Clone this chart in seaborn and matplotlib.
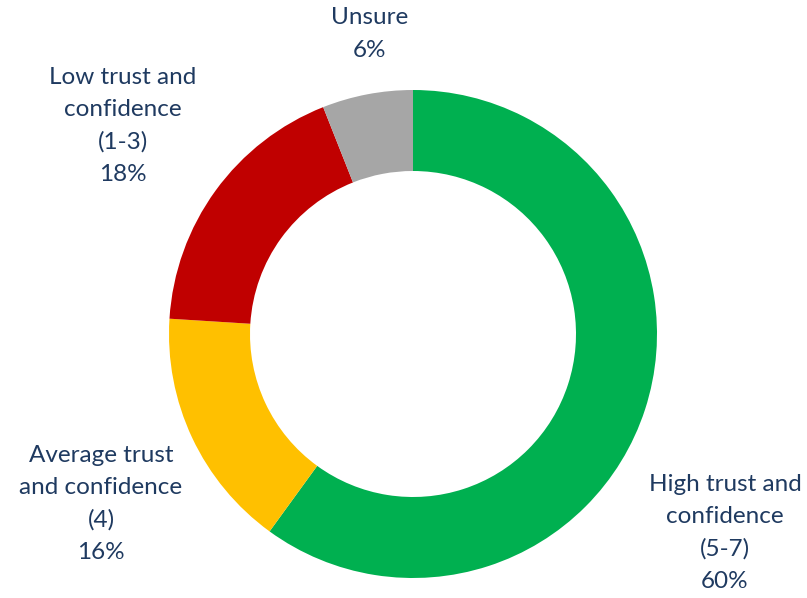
import matplotlib
matplotlib.use("Agg")
import matplotlib.pyplot as plt
import seaborn as sns

# Survey shares, drawn clockwise from 12 o'clock
categories = ["High trust and\nconfidence\n(5-7)",
              "Average trust\nand confidence\n(4)",
              "Low trust and\nconfidence\n(1-3)",
              "Unsure"]
shares = [60, 16, 18, 6]
colors = ["#00B050", "#FFC000", "#C00000", "#A6A6A6"]

W, H = 807, 598
# Label anchor points (pixel coordinates measured from the top-left)
label_pos = [(725, 533), (101, 504), (123, 126), (370, 34)]

sns.set_theme(style="white")
plt.rcParams["font.family"] = ["Lato", "DejaVu Sans"]

fig = plt.figure(figsize=(W / 100, H / 100), dpi=100)
ax = fig.add_axes([0, 0, 1, 1])

outer_r = 244
ring_w = 81
ax.pie(shares, colors=colors, startangle=90, counterclock=False,
       center=(413, H - 334), radius=outer_r, frame=True,
       wedgeprops=dict(width=ring_w, linewidth=0))
ax.set_xlim(0, W)
ax.set_ylim(0, H)
ax.set_aspect("equal")
ax.axis("off")

text_color = "#1F3A60"
for name, val, (x, y) in zip(categories, shares, label_pos):
    ax.text(x, H - y, f"{name}\n{val}%", ha="center", va="center",
            fontsize=17.5, color=text_color, linespacing=1.65)

fig.savefig("out.png", dpi=100)
